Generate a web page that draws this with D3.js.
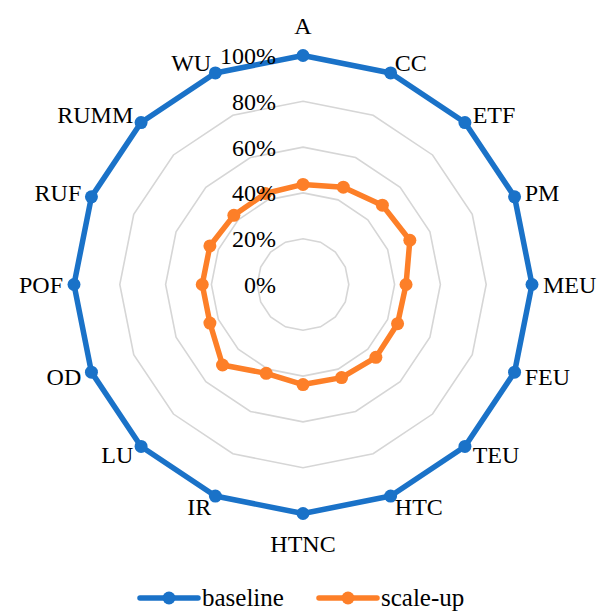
<!DOCTYPE html>
<html>
<head>
<meta charset="utf-8">
<script src="https://cdn.jsdelivr.net/npm/d3@7"></script>
<style>
  body { margin: 0; background: #fff; }
  text { font-family: "Liberation Serif", "DejaVu Serif", serif; fill: #000; }
</style>
</head>
<body>
<div id="chart"></div>
<script>
const categories = ["A", "CC", "ETF", "PM", "MEU", "FEU", "TEU", "HTC", "HTNC", "IR", "LU", "OD", "POF", "RUF", "RUMM", "WU"];
const baseline = [1, 1, 1, 1, 1, 1, 1, 1, 1, 1, 1, 1, 1, 1, 1, 1];
const scaleUp = [0.437, 0.46, 0.49, 0.505, 0.45, 0.447, 0.45, 0.44, 0.437, 0.42, 0.497, 0.44, 0.44, 0.44, 0.427, 0.43];
const ticks = [0, 0.2, 0.4, 0.6, 0.8, 1];
const seriesNames = ["baseline", "scale-up"];
const colors = ["#1a72c8", "#fd7f28"];

const width = 601, height = 612;
const cx = 303, cy = 284.5, R = 229;

const svg = d3.select("#chart").append("svg")
    .attr("width", width)
    .attr("height", height);

const r = d3.scaleLinear().domain([0, 1]).range([0, R]);
const angle = d3.scalePoint().domain(categories).range([0, 2 * Math.PI * (categories.length - 1) / categories.length]);

const g = svg.append("g").attr("transform", `translate(${cx},${cy})`);

const radial = d3.lineRadial()
    .angle((d, i) => angle(categories[i]))
    .radius(d => r(d))
    .curve(d3.curveLinearClosed);

// grid rings
ticks.filter(t => t > 0).forEach(t => {
    g.append("path")
        .attr("d", radial(categories.map(() => t)))
        .attr("fill", "none")
        .attr("stroke", "#d6d6d6")
        .attr("stroke-width", 1.6);
});

// series
[baseline, scaleUp].forEach((vals, s) => {
    g.append("path")
        .attr("d", radial(vals))
        .attr("fill", "none")
        .attr("stroke", colors[s])
        .attr("stroke-width", 5.5)
        .attr("stroke-linejoin", "round");
    g.selectAll(".pt" + s)
        .data(vals)
        .enter()
        .append("circle")
        .attr("cx", (d, i) => r(d) * Math.sin(angle(categories[i])))
        .attr("cy", (d, i) => -r(d) * Math.cos(angle(categories[i])))
        .attr("r", 6.5)
        .attr("fill", colors[s]);
});

// tick labels
g.selectAll(".tick")
    .data(ticks)
    .enter()
    .append("text")
    .attr("x", -27)
    .attr("y", d => -r(d))
    .attr("dy", "0.35em")
    .attr("text-anchor", "end")
    .attr("font-size", 24)
    .text(d => d3.format(".0%")(d));

// category labels
g.selectAll(".cat")
    .data(categories)
    .enter()
    .append("text")
    .attr("x", d => (R + 11) * Math.sin(angle(d)))
    .attr("y", d => {
        let a = angle(d), y = -(R + 11) * Math.cos(a);
        if (Math.abs(Math.sin(a)) < 0.01) y -= Math.cos(a) * 19;
        return y;
    })
    .attr("dy", "0.35em")
    .attr("text-anchor", d => {
        let s = Math.sin(angle(d));
        return Math.abs(s) < 0.01 ? "middle" : (s > 0 ? "start" : "end");
    })
    .attr("font-size", 24)
    .text(d => d);

// legend
const legendX = [140, 319];
const legend = svg.append("g").attr("transform", "translate(0,598)");
seriesNames.forEach((name, s) => {
    let x0 = legendX[s];
    legend.append("line")
        .attr("x1", x0).attr("x2", x0 + 58)
        .attr("y1", 0).attr("y2", 0)
        .attr("stroke", colors[s])
        .attr("stroke-width", 5.5)
        .attr("stroke-linecap", "round");
    legend.append("circle")
        .attr("cx", x0 + 29).attr("cy", 0)
        .attr("r", 6.5)
        .attr("fill", colors[s]);
    legend.append("text")
        .attr("x", x0 + 62)
        .attr("y", 0)
        .attr("dy", "0.3em")
        .attr("font-size", 25)
        .text(name);
});
</script>
</body>
</html>
